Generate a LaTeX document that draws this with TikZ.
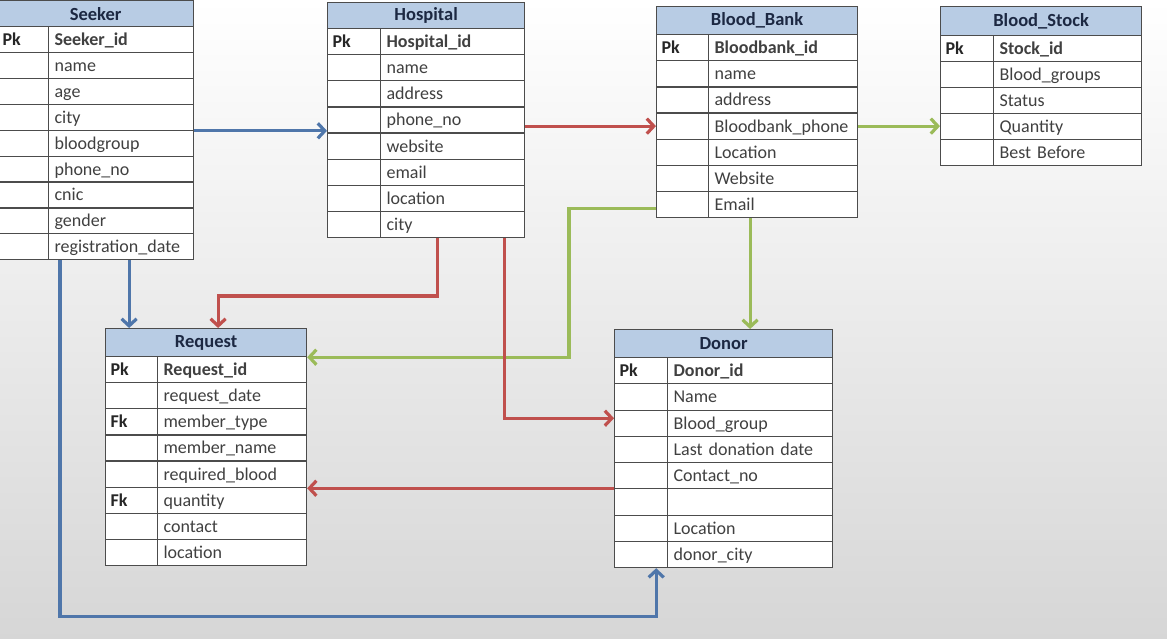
\documentclass[tikz,border=0pt]{standalone}
\usepackage{fontspec}
\setmainfont{Carlito}
\usetikzlibrary{arrows.meta, positioning, calc}
\usepackage{xcolor}

\definecolor{headfill}{RGB}{184,204,228}
\definecolor{headtext}{RGB}{28,40,66}
\definecolor{celltext}{RGB}{64,64,64}
\definecolor{linkblue}{RGB}{79,118,170}
\definecolor{linkred}{RGB}{192,80,77}
\definecolor{linkgreen}{RGB}{155,187,89}
\hyphenpenalty=10000

\begin{document}
\begin{tikzpicture}[
  x=1pt, y=-1pt,
  font=\fontsize{18}{20}\selectfont,
  tablehead/.style={rectangle, draw=black!70, line width=1.2pt, fill=headfill, anchor=north west, inner sep=0pt, text=headtext, font=\fontsize{18.5}{20}\selectfont\bfseries},
  keycell/.style={rectangle, draw=black!70, line width=1.2pt, fill=white, anchor=north west, inner xsep=5pt, inner ysep=0pt, align=left, text height=14pt, text depth=2pt, text=black!85, font=\fontsize{18}{20}\selectfont\bfseries},
  fieldcell/.style={rectangle, draw=black!70, line width=1.2pt, fill=white, anchor=north west, inner xsep=6pt, inner ysep=0pt, align=left, text height=14pt, text depth=2pt, text=celltext},
  link/.style={line width=3.2pt, -{Straight Barb[length=7pt,width=15pt]}},
]

\useasboundingbox (0,0) rectangle (1167,638);
\shade[top color=white, middle color=white, bottom color=black!16] (0,0) rectangle (1167,638);

% Seeker
\node[tablehead, minimum width=196pt, minimum height=26pt] (seekerhead) at (-3,0) {Seeker};
\foreach \k/\f [count=\i from 0] in {Pk/\textbf{Seeker\_id}, /name, /age, /city, /bloodgroup, /phone\_no, /cnic, /gender, /registration\_date}{
  \node[keycell, text width=41pt, minimum height=25.9pt] (seeker-k\i) at (-3,{26+25.9*\i}) {\k};
  \node[fieldcell, text width=133pt, minimum height=25.9pt] (seeker-f\i) at (48,{26+25.9*\i}) {\f};
}

% Hospital
\node[tablehead, minimum width=197pt, minimum height=26pt] (hospitalhead) at (327,2) {Hospital};
\foreach \k/\f [count=\i from 0] in {Pk/\textbf{Hospital\_id}, /name, /address, /phone\_no, /website, /email, /location, /city}{
  \node[keycell, text width=43pt, minimum height=26.1pt] (hospital-k\i) at (327,{28+26.1*\i}) {\k};
  \node[fieldcell, text width=132pt, minimum height=26.1pt] (hospital-f\i) at (380,{28+26.1*\i}) {\f};
}

% Blood_Bank
\node[tablehead, minimum width=201pt, minimum height=28pt] (bankhead) at (656,6) {Blood\_Bank};
\foreach \k/\f [count=\i from 0] in {Pk/\textbf{Bloodbank\_id}, /name, /address, /Bloodbank\_phone, /Location, /Website, /Email}{
  \node[keycell, text width=42pt, minimum height=26.15pt] (bank-k\i) at (656,{34+26.15*\i}) {\k};
  \node[fieldcell, text width=137pt, minimum height=26.15pt] (bank-f\i) at (708,{34+26.15*\i}) {\f};
}

% Blood_Stock
\node[tablehead, minimum width=201pt, minimum height=29pt] (stockhead) at (940,6) {Blood\_Stock};
\foreach \k/\f [count=\i from 0] in {Pk/\textbf{Stock\_id}, /Blood\_groups, /Status, /Quantity, /Best Before}{
  \node[keycell, text width=43pt, minimum height=26pt] (stock-k\i) at (940,{35+26*\i}) {\k};
  \node[fieldcell, text width=136pt, minimum height=26pt] (stock-f\i) at (993,{35+26*\i}) {\f};
}

% Request
\node[tablehead, minimum width=201pt, minimum height=28pt] (requesthead) at (105,328) {Request};
\foreach \k/\f [count=\i from 0] in {Pk/\textbf{Request\_id}, /request\_date, Fk/member\_type, /member\_name, /required\_blood, Fk/quantity, /contact, /location}{
  \node[keycell, text width=42pt, minimum height=26.1pt] (request-k\i) at (105,{356+26.1*\i}) {\k};
  \node[fieldcell, text width=137pt, minimum height=26.1pt] (request-f\i) at (157,{356+26.1*\i}) {\f};
}

% Donor
\node[tablehead, minimum width=218pt, minimum height=28pt] (donorhead) at (614,329) {Donor};
\foreach \k/\f [count=\i from 0] in {Pk/\textbf{Donor\_id}, /Name, /Blood\_group, /Last donation date, /Contact\_no, /, /Location, /donor\_city}{
  \node[keycell, text width=43pt, minimum height=26.25pt] (donor-k\i) at (614,{357+26.25*\i}) {\k};
  \node[fieldcell, text width=153pt, minimum height=26.25pt] (donor-f\i) at (667,{357+26.25*\i}) {\f};
}

% links
\draw[link, linkblue] (seeker-f3.south east) -- (seeker-f3.south east -| hospital-k3.west);
\draw[link, linkred] (hospital-f3.east |- bank-k3.west) -- (bank-k3.west);
\draw[link, linkgreen] (bank-f3.east) -- (bank-f3.east -| stock-k3.west);
\draw[link, linkgreen] ([yshift=-4pt]bank-k6.west) -- ++(-87,0) |- (requesthead.south east);
\draw[link, linkred] ([xshift=-15pt]hospital-f7.south) -- ++(0,58) -| ([xshift=12pt]requesthead.north);
\draw[link, linkred] ([xshift=-21pt]hospital-f7.south east) |- ([yshift=5pt]donor-k2.west);
\draw[link, linkgreen] (bank-f6.south -| donor-f0.north) -- (donorhead.north -| donor-f0.north);
\draw[link, linkred] (donor-k5.north west) -- (donor-k5.north west -| request-f5.east);
\draw[link, linkblue] ($(seeker-f8.south)+(8,0)$) -- ($(seeker-f8.south |- requesthead.north)+(8,0)$);
\draw[link, linkblue] ([xshift=12pt]seeker-f8.south west) -- ++(0,356) -| ([xshift=-12pt]donor-k7.south east);

\end{tikzpicture}
\end{document}
